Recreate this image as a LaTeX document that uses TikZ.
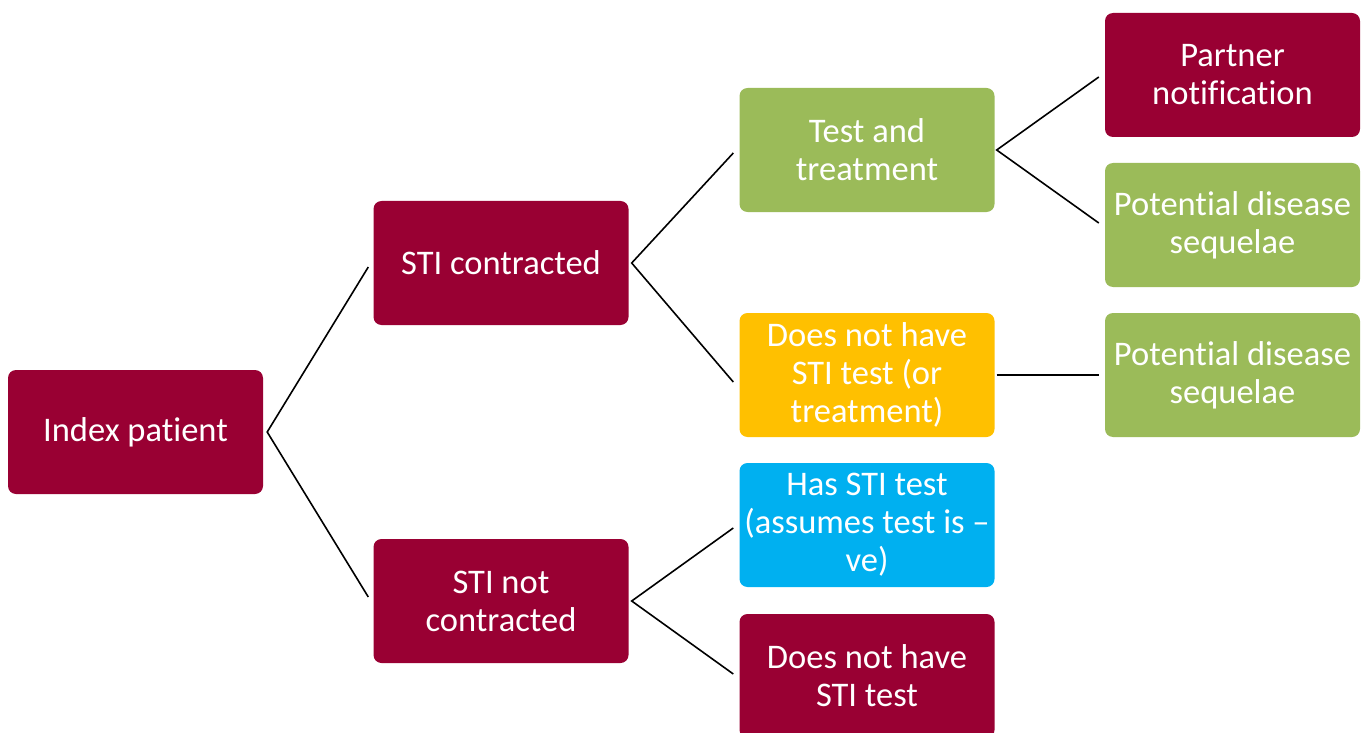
\documentclass[tikz,border=0pt]{standalone}
\usepackage{fontspec}
\setmainfont[Ligatures=NoCommon]{Carlito}
\usetikzlibrary{calc}
\definecolor{maroon}{HTML}{990033}
\definecolor{lgreen}{HTML}{9BBB59}
\definecolor{amber}{HTML}{FFC000}
\definecolor{sky}{HTML}{00B0F0}
\tikzset{
  box/.style={rounded corners=8pt, minimum width=255pt, minimum height=124pt,
    inner sep=0pt, align=center, text=white,
    font=\fontsize{34.5}{38}\selectfont},
  mbox/.style={box, fill=maroon},
  gbox/.style={box, fill=lgreen},
  ybox/.style={box, fill=amber},
  bbox/.style={box, fill=sky},
  link/.style={draw=black, line width=1.6pt}
}
\begin{document}
\begin{tikzpicture}[x=1pt,y=-1pt]
\useasboundingbox (0,0) rectangle (1369,733);
\node[mbox] (idx) at (135.5,432) {Index patient};
\node[mbox] (stic) at (501,263) {STI contracted};
\node[mbox] (stin) at (501,601) {STI not\\contracted};
\node[gbox] (tt) at (867,150) {Test and\\treatment};
\node[ybox] (dnh) at (867,375) {Does not have\\STI test (or\\treatment)};
\node[bbox] (has) at (867,525) {Has STI test\\(assumes test is –\\ve)};
\node[mbox] (dnh2) at (867,676) {Does not have\\STI test};
\node[mbox] (pn) at (1232.5,75) {Partner\\notification};
\node[gbox] (pds1) at (1232.5,225) {Potential disease\\sequelae};
\node[gbox] (pds2) at (1232.5,375) {Potential disease\\sequelae};

\draw[link] ($(stic.west)+(-5,4)$) -- ($(idx.east)+(4,0)$) -- ($(stin.west)+(-5,-4)$);
\draw[link] ($(tt.west)+(-6,3)$) -- ($(stic.east)+(3,0)$) -- ($(dnh.west)+(-6,7)$);
\draw[link] ($(has.west)+(-6,3)$) -- ($(stin.east)+(3,0)$) -- ($(dnh2.west)+(-6,-2)$);
\draw[link] ($(pn.west)+(-6,2)$) -- ($(tt.east)+(2,0)$) -- ($(pds1.west)+(-6,-2)$);
\draw[link] ($(dnh.east)+(2,0)$) -- ($(pds2.west)+(-6,0)$);
\end{tikzpicture}
\end{document}
